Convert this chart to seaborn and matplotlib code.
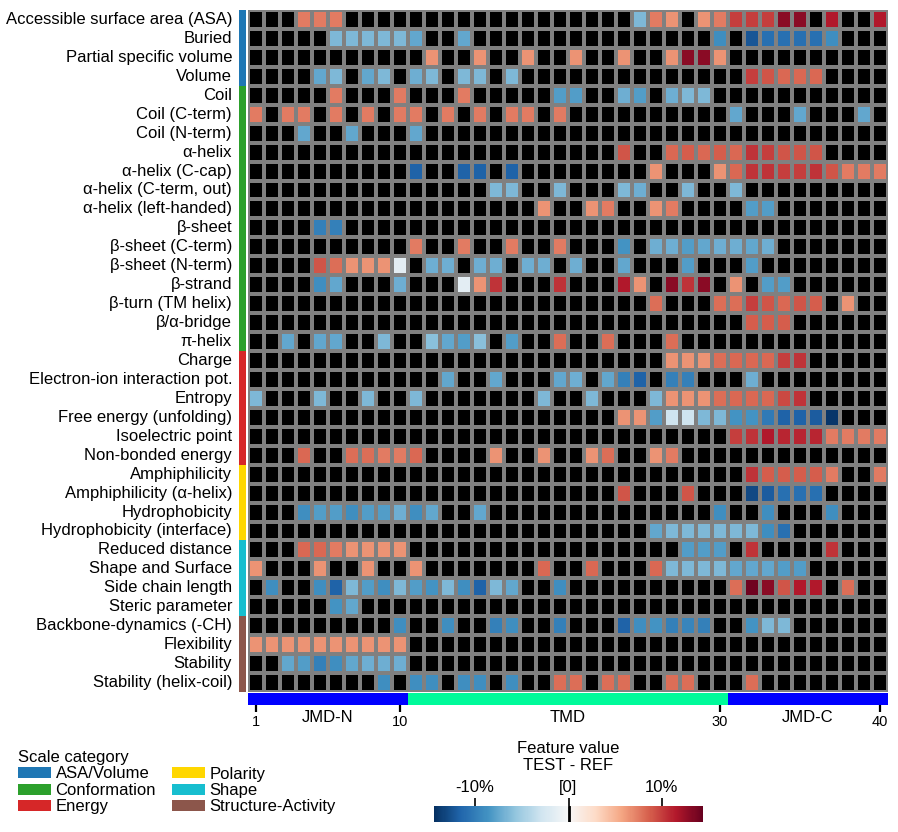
import numpy as np
import pandas as pd
import matplotlib
matplotlib.use("Agg")
import matplotlib.pyplot as plt
import matplotlib.cm as cm
import matplotlib.transforms as mtransforms
from matplotlib.colors import ListedColormap, Normalize
from matplotlib.patches import Patch
import seaborn as sns

sns.set_theme(style="white")
plt.rcParams['font.family'] = ['Liberation Sans', 'DejaVu Sans']
plt.rcParams.update({"text.color": "black", "xtick.color": "black", "ytick.color": "black",
                     "axes.labelcolor": "black"})

# ---------------- data ----------------
features = [
    "Accessible surface area (ASA)", "Buried", "Partial specific volume", "Volume",
    "Coil", "Coil (C-term)", "Coil (N-term)", "α-helix", "α-helix (C-cap)",
    "α-helix (C-term, out)", "α-helix (left-handed)", "β-sheet", "β-sheet (C-term)",
    "β-sheet (N-term)", "β-strand", "β-turn (TM helix)", "β/α-bridge", "π-helix",
    "Charge", "Electron-ion interaction pot.", "Entropy", "Free energy (unfolding)",
    "Isoelectric point", "Non-bonded energy",
    "Amphiphilicity", "Amphiphilicity (α-helix)", "Hydrophobicity", "Hydrophobicity (interface)",
    "Reduced distance", "Shape and Surface", "Side chain length", "Steric parameter",
    "Backbone-dynamics (-CH)", "Flexibility", "Stability", "Stability (helix-coil)",
]
feature_category = (["ASA/Volume"] * 4 + ["Conformation"] * 14 + ["Energy"] * 6
                    + ["Polarity"] * 4 + ["Shape"] * 4 + ["Structure-Activity"] * 4)
categories = ["ASA/Volume", "Conformation", "Energy", "Polarity", "Shape", "Structure-Activity"]
category_colors = ["#1f77b4", "#2ca02c", "#d62728", "#ffd700", "#17becf", "#8c564b"]

positions = list(range(1, 41))
tmd_start, tmd_stop = 11, 30
parts = ["JMD-N", "TMD", "JMD-C"]
part_centers = [5, 20, 35]
xtick_positions = [1, 10, 30, 40]

# feature value (TEST - REF, %) per residue position; positions not listed are 0
values = {
    "Accessible surface area (ASA)": {4: 7.5, 5: 7.5, 6: 7.5, 25: -6.5, 26: 7.5, 27: 6.5, 29: 6.5, 30: 7.5,
                                      31: 9.9, 32: 9.9, 33: 9.9, 34: 13, 35: 13, 37: 11.5, 40: 11.5},
    "Buried": {6: -6.5, 7: -6.5, 8: -6.5, 9: -6.5, 10: -6.5, 11: -7.5, 14: -7.5, 30: -9, 32: -12.3,
               33: -10.8, 34: -10.8, 35: -10.8, 36: -10.8, 37: -9},
    "Partial specific volume": {12: 6.5, 15: 6.5, 18: 6.5, 21: 6.5, 24: 6.5, 27: 6.5, 28: 13, 29: 13, 30: 6.5},
    "Volume": {5: -7.5, 6: -6.5, 8: -7.5, 9: -6.5, 11: -7, 12: -6.5, 14: -6.5, 15: -6.5, 17: -6.5,
               32: 9.9, 33: 9.1, 34: 8.3, 35: 8.3, 36: 8.3},
    "Coil": {6: 7.5, 10: 7.5, 14: 7.5, 20: -8, 21: -8, 24: -7, 25: -8, 27: -7, 28: -6.5, 29: -6.5},
    "Coil (C-term)": {1: 7.5, 3: 7.5, 4: 7.5, 6: 7.5, 8: 7.5, 10: 7.5, 11: 7.5, 13: 7.5, 15: 7.5, 17: 7.5,
                      18: 7.5, 20: 7.5, 31: -7.5, 35: -7.5, 39: -7.5},
    "Coil (N-term)": {4: -7.5, 7: -7.5, 11: -7.5},
    "α-helix": {24: 9.1, 27: 8.3, 28: 8.7, 29: 8.3, 30: 8.7, 31: 8.3, 32: 10.4, 33: 9.9, 34: 9.1, 35: 9.1, 36: 9.1},
    "α-helix (C-cap)": {11: -11.6, 14: -11.6, 15: -11.6, 17: -11.6, 26: 6.5, 30: 6.5, 31: 8.3, 32: 10.4,
                        33: 10.4, 34: 9.9, 35: 9.9, 36: 10.4, 37: 9.1, 38: 7.5, 39: 7.5, 40: 7.5},
    "α-helix (C-term, out)": {16: -6.5, 17: -6.5, 20: -6.5, 24: -6.5, 25: -7, 28: -6.5, 31: -6.5},
    "α-helix (left-handed)": {19: 6.5, 22: 6.5, 23: 7.5, 26: 6.5, 27: 7.5, 32: -8, 33: -8},
    "β-sheet": {5: -9.8, 6: -9.8},
    "β-sheet (C-term)": {11: 7.5, 14: 7.5, 17: 7.5, 20: 7.5, 24: -8.6, 26: -7, 27: -7, 28: -8, 29: -7.5,
                         30: -7, 31: -7, 32: -7.5, 33: -7},
    "β-sheet (N-term)": {5: 9.1, 6: 8, 7: 6.5, 8: 6.5, 9: 6.5, 10: -1.5, 12: -7, 13: -7, 15: -7, 16: -7,
                         18: -7, 19: -7, 21: -7, 24: -7.5, 28: -8, 32: -8},
    "β-strand": {5: -9, 6: -7.5, 10: -7, 14: -1.5, 15: 6.5, 16: 10.4, 20: 10.4, 24: 11.5, 25: 6.5,
                 27: 13, 28: 10.4, 29: 13, 31: 6.5, 33: -8, 34: -8},
    "β-turn (TM helix)": {26: 8, 30: 8, 31: 8, 32: 9.9, 33: 9.1, 34: 8.3, 35: 9.1, 36: 8.7, 38: 6.5},
    "β/α-bridge": {32: 8.7, 33: 8.7, 34: 8.7},
    "π-helix": {3: -7.5, 5: -7.5, 6: -7.5, 9: -6.5, 12: -6, 13: -7.5, 14: -8, 15: -6, 17: -8,
                20: 8, 23: 8, 27: 8},
    "Charge": {27: 6.5, 28: 6.5, 29: 6.5, 30: 8, 31: 8.3, 32: 8.3, 33: 8.3, 34: 9.9, 35: 10.4},
    "Electron-ion interaction pot.": {13: -7.5, 16: -7.5, 20: -7.5, 21: -7, 23: -7.5, 24: -9.8, 25: -11.6,
                                      27: -9.8, 28: -9.8, 32: -7},
    "Entropy": {1: -6.5, 5: -6.5, 8: -6.5, 11: -6.5, 19: -6.5, 22: -6.5, 26: -6.5, 27: 6.5, 28: 6.5,
                29: 6.5, 30: 8, 31: 8.3, 32: 8.3, 33: 8.3, 34: 9.5, 35: 10.4},
    "Free energy (unfolding)": {24: 6.5, 25: 6.5, 26: -8, 27: -3, 28: -3, 29: -6.5, 30: -6.5, 31: -8.6,
                                32: -8.6, 33: -10.2, 34: -11.6, 35: -11.6, 36: -12, 37: -14},
    "Isoelectric point": {31: 9.9, 32: 10.4, 33: 11.5, 34: 11, 35: 11, 36: 11, 37: 7.5, 38: 7.5, 39: 7.5, 40: 7.5},
    "Non-bonded energy": {4: 8.3, 7: 8, 8: 8, 9: 7.5, 10: 7.5, 11: 8.3, 16: 6.5, 19: 6.5, 22: 6.5, 23: 8,
                          26: 6.5, 27: 7.5},
    "Amphiphilicity": {32: 10.4, 33: 8.7, 34: 8.7, 35: 8.7, 36: 8.7, 37: 7.5, 40: 7.5},
    "Amphiphilicity (α-helix)": {24: 9.1, 28: 9.1, 32: -13, 33: -12, 34: -10.8, 35: -10.8, 36: -10.8},
    "Hydrophobicity": {4: -9, 5: -8, 6: -8, 7: -9, 8: -8, 9: -8, 10: -7, 11: -9, 12: -7.5, 15: -7.5,
                       30: -9, 33: -9, 37: -9},
    "Hydrophobicity (interface)": {26: -7.5, 27: -6.5, 28: -6.5, 29: -6.5, 30: -6.5, 31: -6.5, 32: -6.5,
                                   33: -9, 34: -10.8},
    "Reduced distance": {4: 8.3, 5: 8.3, 6: 7.5, 7: 6.5, 8: 6.5, 9: 6.5, 10: 6.5, 28: -8, 29: -8, 30: -8,
                         32: 10.4, 37: 10.4},
    "Shape and Surface": {1: 6.5, 5: 6.5, 8: 6.5, 11: 6.5, 19: 8.3, 22: 8.3, 26: 8.3, 27: -6.5, 28: -6.5,
                          29: -6.5, 30: -6.5, 31: -7.5, 32: -7.5, 33: -7.5, 34: -8, 35: -8},
    "Side chain length": {2: -9, 5: -9, 6: -11.6, 7: -6.5, 8: -8, 9: -9, 10: -6.5, 11: -8, 12: -8.6,
                          13: -6.5, 14: -9, 15: -11.6, 16: -6.5, 17: -7.5, 20: -9, 31: 8, 32: 14, 33: 13,
                          34: 9.1, 35: 11.5, 36: 11.5, 38: 8},
    "Steric parameter": {6: -8.6, 7: -7.5},
    "Backbone-dynamics (-CH)": {10: -9, 13: -9, 16: -9.8, 17: -9, 20: -9.8, 24: -11.6, 25: -9, 26: -8.6,
                                27: -9.8, 28: -9.5, 29: -9.8, 32: -8.6, 33: -6.5, 34: -6.5},
    "Flexibility": {1: 6.5, 2: 6.5, 3: 6.5, 4: 6.5, 5: 6.5, 6: 6.5, 7: 6.5, 8: 6.5, 9: 6.5, 10: 6.5},
    "Stability": {3: -7.5, 4: -8, 5: -9.8, 6: -9, 7: -7.5, 8: -7, 9: -7, 10: -7},
    "Stability (helix-coil)": {9: -9, 11: -9, 12: -9, 14: -9, 15: -9, 17: -9, 20: 8, 21: 8, 23: 8, 24: 8,
                               27: 8, 28: 8, 32: 8},
}
vmin, vmax = -14.4, 14.4

# ---------------- build tables ----------------
df = pd.DataFrame(0.0, index=features, columns=positions)
for feat, d in values.items():
    for pos, v in d.items():
        df.loc[feat, pos] = v

cat_df = pd.DataFrame({"cat": [categories.index(c) for c in feature_category]}, index=features)
part_idx = [1 if tmd_start <= p <= tmd_stop else 0 for p in positions]
part_df = pd.DataFrame([part_idx], columns=positions)

# ---------------- figure ----------------
W, H = 898, 832
fig = plt.figure(figsize=(W / 100, H / 100), dpi=100)
FS = 12


def px_axes(x0, y0, x1, y1):
    return fig.add_axes([x0 / W, 1 - y1 / H, (x1 - x0) / W, (y1 - y0) / H])


# main heatmap
ax = px_axes(248, 10, 888, 692)
sns.heatmap(df * 0, cmap=ListedColormap(["black"]), cbar=False, linewidths=1.5, linecolor="gray",
            xticklabels=False, yticklabels=True, ax=ax)
sns.heatmap(df, mask=(df == 0), cmap="RdBu_r", vmin=vmin, vmax=vmax, cbar=False,
            linewidths=1.5, linecolor="gray", xticklabels=False, yticklabels=True, ax=ax)
ax.set_xlabel("")
ax.set_ylabel("")
ax.tick_params(axis="y", length=0, pad=11.5, labelsize=FS)
plt.setp(ax.get_yticklabels(), rotation=0)

# category strip
sax = px_axes(239, 10, 246, 692)
sns.heatmap(cat_df, cmap=ListedColormap(category_colors), vmin=-0.5, vmax=len(categories) - 0.5,
            cbar=False, xticklabels=False, yticklabels=False, ax=sax)
sax.set_ylabel("")

# position bar
pax = px_axes(248, 693, 888, 705)
sns.heatmap(part_df, cmap=ListedColormap(["blue", "mediumspringgreen"]), vmin=0, vmax=1,
            cbar=False, xticklabels=False, yticklabels=False, ax=pax)
pax.set_xticks([p - 0.5 for p in xtick_positions])
pax.set_xticklabels([str(p) for p in xtick_positions])
pax.tick_params(axis="x", bottom=True, length=5, width=1.6, color="black", labelsize=10.5, pad=2)
trans = mtransforms.blended_transform_factory(pax.transData, fig.transFigure)
for lab, c in zip(parts, part_centers):
    pax.text(c, 1 - 718 / H, lab, transform=trans, ha="center", va="center", fontsize=FS)

# colorbar
cax = px_axes(434, 806, 703, 822)
norm = Normalize(vmin, vmax)
cb = fig.colorbar(cm.ScalarMappable(norm=norm, cmap="RdBu_r"), cax=cax, orientation="horizontal",
                  ticks=[-10, 0, 10])
cb.ax.set_xticklabels(["-10%", "[0]", "10%"])
cax.xaxis.set_ticks_position("top")
cax.tick_params(axis="x", top=True, bottom=False, length=6, width=1.2, color="black", pad=2, labelsize=FS)
cb.outline.set_visible(False)
cax.axvline(0, color="black", lw=2)
fig.text(568 / W, 1 - 757 / H, "Feature value\nTEST - REF", ha="center", va="center",
         fontsize=FS, linespacing=1.1)

# legend
handles = [Patch(facecolor=c, edgecolor="none", label=l) for l, c in zip(categories, category_colors)]
fig.legend(handles=handles, ncol=2, loc="upper left", bbox_to_anchor=(18 / W, 1 - 750 / H),
           frameon=False, title="Scale category", alignment="left", fontsize=FS, title_fontsize=FS,
           handlelength=2.0, handleheight=0.66, handletextpad=0.25, labelspacing=0.09,
           columnspacing=0.95, borderpad=0, borderaxespad=0)

fig.savefig("out.png", dpi=100)
